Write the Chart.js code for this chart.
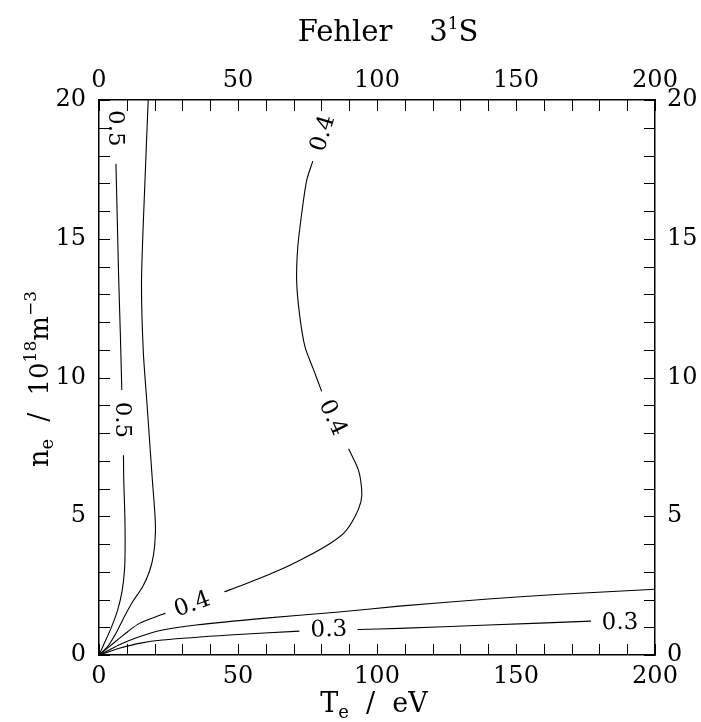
<!DOCTYPE html>
<html>
<head>
<meta charset="utf-8">
<script src="https://cdn.jsdelivr.net/npm/chart.js@4.4.1/dist/chart.umd.min.js"></script>
<style>
  html, body { margin: 0; padding: 0; background: #fff; }
</style>
</head>
<body>
<canvas id="chart" width="701" height="722"></canvas>
<script>
// axis ranges and tick labels
const xTicks = [0, 50, 100, 150, 200];
const yTicks = [0, 5, 10, 15, 20];

// contour lines, [Te, ne] pairs, split where a label breaks the line
const c05innerTop = [[6.1, 17.7], [6.5, 16.0], [7.1, 13.5], [7.7, 11.5], [8.2, 9.55]];
const c05innerLow = [[8.8, 7.2], [8.9, 6.3], [9.3, 5.0], [9.4, 3.9], [9.2, 3.1], [8.3, 2.3], [6.7, 1.62], [4.3, 0.96], [1.9, 0.42], [0, 0]];
const c05outer = [[17.7, 20], [16.5, 17], [15.3, 13.5], [15.9, 11], [17.3, 9], [19.2, 6.3], [20.1, 5.1], [20.3, 4.4], [19.6, 3.6], [18.1, 3.0], [15.7, 2.46], [12.1, 1.92], [9.1, 1.38], [6.1, 0.78], [3.1, 0.3], [0, 0]];
const c04a = [[0, 0], [3.7, 0.3], [7.3, 0.6], [10.3, 0.84], [14.5, 1.14], [20.5, 1.38], [23.9, 1.5]];
const c04b = [[45.1, 2.28], [51.7, 2.52], [64.9, 3.06], [74.7, 3.54], [83.1, 4.02], [88.5, 4.44], [92.1, 4.99], [94.2, 5.52], [94.5, 5.95], [93.3, 6.67], [89.8, 7.43]];
const c04c = [[80.1, 9.5], [77.1, 10.3], [74.1, 11.1], [72.1, 12.3], [71.1, 13.5], [71.5, 14.7], [72.9, 15.9], [74.7, 17.1], [76.9, 17.8]];
const c035 = [[0, 0], [3.7, 0.18], [8.5, 0.42], [14.5, 0.66], [22.9, 0.9], [34.9, 1.08], [58.9, 1.32], [85.3, 1.54], [108, 1.76], [140, 2.02], [166, 2.19], [200, 2.37]];
const c03a = [[0, 0], [2.5, 0.08], [7.3, 0.24], [14.5, 0.42], [22.9, 0.54], [46.9, 0.72], [72.1, 0.86]];
const c03b = [[93, 0.92], [108, 0.96], [140, 1.08], [177, 1.22]];

// contour labels
const labelText = ["0.5", "0.5", "0.4", "0.4", "0.4", "0.3", "0.3"];
const labelTe = [6.05, 8.45, 33.5, 84.2, 80.4, 82.7, 187.4];
const labelNe = [18.98, 8.47, 1.84, 8.56, 18.8, 0.93, 1.19];

const FONT = "'DejaVu Serif', 'Liberation Serif', serif";
const labelAngle = [90, 90, -20, 65, -73, -2, -1];

const lines = [c05innerTop, c05innerLow, c05outer, c04a, c04b, c04c, c035, c03a, c03b];

const datasets = lines.map((l) => ({
  data: l.map(([x, y]) => ({ x: x, y: y })),
  showLine: true,
  borderColor: "#000",
  borderWidth: 1.1,
  pointRadius: 0,
  tension: 0.25,
  fill: false,
}));

function richText(ctx, parts, x, y) {
  // parts: [text, size, dy]; drawn centred on x
  let total = 0;
  parts.forEach((p) => {
    ctx.font = p[1] + "px " + FONT;
    total += ctx.measureText(p[0]).width;
  });
  let cx = x - total / 2;
  parts.forEach((p) => {
    ctx.font = p[1] + "px " + FONT;
    ctx.fillText(p[0], cx, y + p[2]);
    cx += ctx.measureText(p[0]).width;
  });
}

const decor = {
  id: "decor",
  afterDraw(chart) {
    const { ctx, chartArea: a, scales } = chart;
    ctx.save();
    ctx.strokeStyle = "#000";
    ctx.lineWidth = 1;
    ctx.beginPath();
    for (let v = 0; v <= 200; v += 10) {
      const px = Math.round(scales.x.getPixelForValue(v)) + 0.5;
      ctx.moveTo(px, a.bottom); ctx.lineTo(px, a.bottom - 11);
      ctx.moveTo(px, a.top); ctx.lineTo(px, a.top + 11);
    }
    for (let v = 0; v <= 20; v += 1) {
      const py = Math.round(scales.y.getPixelForValue(v)) + 0.5;
      ctx.moveTo(a.left, py); ctx.lineTo(a.left + 11, py);
      ctx.moveTo(a.right, py); ctx.lineTo(a.right - 11, py);
    }
    ctx.stroke();

    // contour labels
    ctx.fillStyle = "#000";
    ctx.textAlign = "center";
    ctx.textBaseline = "middle";
    ctx.font = "23px " + FONT;
    labelText.forEach((t, i) => {
      ctx.save();
      ctx.translate(scales.x.getPixelForValue(labelTe[i]), scales.y.getPixelForValue(labelNe[i]));
      ctx.rotate((labelAngle[i] * Math.PI) / 180);
      ctx.fillText(t, 0, 1);
      ctx.restore();
    });

    // titles
    ctx.textAlign = "left";
    ctx.textBaseline = "alphabetic";
    richText(ctx, [["Fehler", 29, 0], ["    ", 29, 0], ["3", 29, 0], ["1", 17, -12], ["S", 29, 0]], 388, 41);
    richText(ctx, [["T", 27, 0], ["e", 18, 6], ["  /  ", 27, 0], ["eV", 27, 0]], 374, 712);

    ctx.save();
    ctx.translate(48, 379);
    ctx.rotate(-Math.PI / 2);
    richText(ctx, [["n", 27, 0], ["e", 18, 5], ["  /  ", 27, 0], ["10", 26, 0], ["18", 17, -12], ["m", 26, 0], ["\u22123", 17, -12]], 0, 0);
    ctx.restore();
    ctx.restore();
  },
};

const tickFont = { family: FONT, size: 24 };
const border = { display: true, color: "#000", width: 1.5 };
const grid = { display: true, drawOnChartArea: false, drawTicks: false };

new Chart(document.getElementById("chart"), {
  type: "scatter",
  data: { datasets: datasets },
  options: {
    responsive: false,
    animation: false,
    devicePixelRatio: 1,
    layout: { padding: 0 },
    plugins: { legend: { display: false }, title: { display: false }, tooltip: { enabled: false } },
    scales: {
      x: {
        type: "linear", position: "bottom", min: 0, max: 200,
        afterBuildTicks: (s) => { s.ticks = xTicks.map((v) => ({ value: v })); },
        afterFit: (s) => { s.height = 67; },
        ticks: { font: tickFont, color: "#000", padding: 7, maxRotation: 0, autoSkip: false },
        grid: grid, border: border,
      },
      x2: {
        type: "linear", position: "top", min: 0, max: 200,
        afterBuildTicks: (s) => { s.ticks = xTicks.map((v) => ({ value: v })); },
        afterFit: (s) => { s.height = 100; },
        ticks: { font: tickFont, color: "#000", padding: 5, maxRotation: 0, autoSkip: false },
        grid: grid, border: border,
      },
      y: {
        type: "linear", position: "left", min: 0, max: 20,
        afterBuildTicks: (s) => { s.ticks = yTicks.map((v) => ({ value: v })); },
        afterFit: (s) => { s.width = 99; },
        ticks: { font: tickFont, color: "#000", padding: 13, autoSkip: false },
        grid: grid, border: border,
      },
      y2: {
        type: "linear", position: "right", min: 0, max: 20,
        afterBuildTicks: (s) => { s.ticks = yTicks.map((v) => ({ value: v })); },
        afterFit: (s) => { s.width = 46; },
        ticks: { font: tickFont, color: "#000", padding: 12, autoSkip: false },
        grid: grid, border: border,
      },
    },
  },
  plugins: [decor],
});
</script>
</body>
</html>
